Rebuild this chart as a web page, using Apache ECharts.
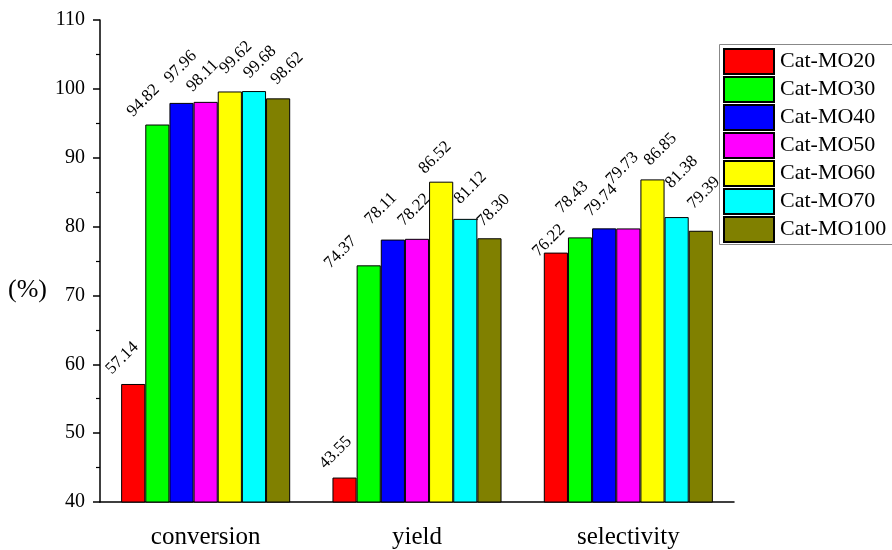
<!DOCTYPE html>
<html>
<head>
<meta charset="utf-8">
<script src="https://cdn.jsdelivr.net/npm/echarts@6/dist/echarts.min.js"></script>
<style>
  html, body { margin: 0; padding: 0; background: #fff; }
  #main { width: 892px; height: 550px; }
</style>
</head>
<body>
<div id="main"></div>
<script>
const categories = ['conversion', 'yield', 'selectivity'];
const seriesNames = ['Cat-MO20', 'Cat-MO30', 'Cat-MO40', 'Cat-MO50', 'Cat-MO60', 'Cat-MO70', 'Cat-MO100'];
const mo20 = [57.14, 43.55, 76.22];
const mo30 = [94.82, 74.37, 78.43];
const mo40 = [97.96, 78.11, 79.74];
const mo50 = [98.11, 78.22, 79.73];
const mo60 = [99.62, 86.52, 86.85];
const mo70 = [99.68, 81.12, 81.38];
const mo100 = [98.62, 78.30, 79.39];
const seriesData = [mo20, mo30, mo40, mo50, mo60, mo70, mo100];
const colors = ['#ff0000', '#00ff00', '#0000ff', '#ff00ff', '#ffff00', '#00ffff', '#808000'];

const serif = "'Liberation Serif', 'Times New Roman', serif";

// screen nudge of each value label centre from the bar top (px), per series / category
const labelNudge = [
  [[-11, -26], [-9, -25], [-7, -12]],
  [[-14, -24], [-28, -13], [-8, -40]],
  [[-1, -36], [-12, -31], [-3, -28]],
  [[-3, -26], [-3, -29], [-6, -60]],
  [[6, -34], [-6, -24], [8, -30]],
  [[6, -29], [5, -31], [5, -45]],
  [[9, -30], [4, -28], [3, -38]]
];
// label is rotated 45deg, so offsets act in the rotated frame
const toLocal = ([dx, dy]) => [0.7071 * (dx - dy), 0.7071 * (dx + dy)];

const init = () => {
  let chart = echarts.init(document.getElementById('main'));
  let option = {
    animation: false,
    backgroundColor: '#fff',
    grid: { left: 100, right: 158, top: 20, bottom: 48 },
    legend: {
      orient: 'vertical',
      left: 719,
      top: 44,
      padding: [4, 4, 4, 4],
      itemWidth: 50,
      itemHeight: 25,
      itemGap: 1,
      icon: 'rect',
      data: seriesNames,
      textStyle: { fontFamily: serif, fontSize: 22, color: '#000', padding: [0, 0, 0, 1] }
    },
    xAxis: {
      type: 'category',
      data: categories,
      axisLine: { lineStyle: { color: '#000', width: 1.5 } },
      axisTick: { show: false },
      axisLabel: { fontFamily: serif, fontSize: 25, color: '#000', margin: 23 }
    },
    yAxis: {
      type: 'value',
      min: 40,
      max: 110,
      interval: 10,
      splitLine: { show: false },
      axisLine: { show: true, lineStyle: { color: '#000', width: 1.5 } },
      axisTick: { show: true, length: 7, lineStyle: { color: '#000', width: 1.5 } },
      minorTick: { show: true, splitNumber: 2, length: 4, lineStyle: { color: '#000', width: 1.2 } },
      axisLabel: { fontFamily: serif, fontSize: 20, color: '#000', margin: 15 }
    },
    graphic: [{
      type: 'text',
      left: 8,
      top: 277,
      style: { text: '(%)', font: '26px ' + serif, fill: '#000' }
    }, {
      // legend frame runs past the right edge of the picture
      type: 'rect',
      shape: { x: 719.5, y: 44.5, width: 250, height: 200 },
      style: { fill: 'none', stroke: '#888', lineWidth: 1 },
      z: 0
    }],
    series: seriesNames.map((name, i) => ({
      name: name,
      type: 'bar',
      data: seriesData[i].map((v, j) => ({
        value: v,
        label: { offset: toLocal(labelNudge[i][j]) }
      })),
      barGap: '0%',
      barCategoryGap: '20%',
      itemStyle: { color: colors[i], borderColor: '#000', borderWidth: 1 },
      label: {
        show: true,
        position: 'top',
        distance: 0,
        rotate: 45,
        align: 'center',
        verticalAlign: 'middle',
        fontFamily: serif,
        fontSize: 17,
        color: '#000',
        formatter: p => p.value.toFixed(2)
      }
    }))
  };
  chart.setOption(option);
};

init();
</script>
</body>
</html>
